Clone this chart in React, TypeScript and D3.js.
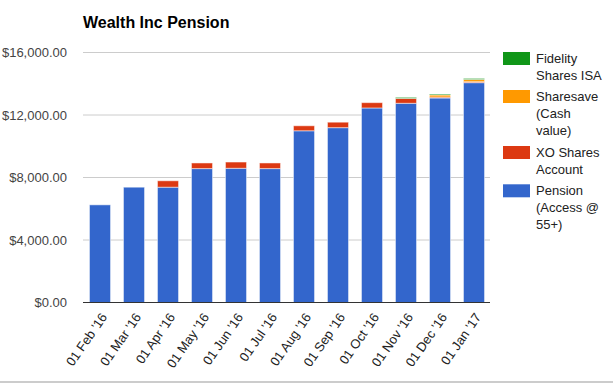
import React from "react";
import * as d3 from "d3";

const categories = ["01 Feb '16", "01 Mar '16", "01 Apr '16", "01 May '16", "01 Jun '16", "01 Jul '16", "01 Aug '16", "01 Sep '16", "01 Oct '16", "01 Nov '16", "01 Dec '16", "01 Jan '17"];
const pension = [6250, 7380, 7380, 8570, 8590, 8570, 10990, 11190, 12450, 12750, 13090, 14070];
const xoShares = [0, 0, 410, 360, 400, 360, 320, 350, 340, 310, 60, 60];
const sharesave = [0, 0, 0, 0, 0, 0, 0, 0, 0, 0, 130, 140];
const fidelity = [0, 0, 0, 0, 0, 0, 0, 0, 0, 70, 60, 70];
const yTicks = [0, 4000, 8000, 12000, 16000];

const seriesNames = ["Pension (Access @ 55+)", "XO Shares Account", "Sharesave (Cash value)", "Fidelity Shares ISA"];
const seriesColors = ["#3366cc", "#dc3912", "#ff9900", "#109618"];
const legendLines = [["Fidelity", "Shares ISA"], ["Sharesave", "(Cash", "value)"], ["XO Shares", "Account"], ["Pension", "(Access @", "55+)"]];
const legendColors = ["#109618", "#ff9900", "#dc3912", "#3366cc"];

export default function App() {
  const W = 613, H = 383;
  const left = 83, right = 491, top = 52.5, bottom = 302.5;
  const x = d3.scaleBand<string>().domain(categories).range([left, right]).paddingInner(0.38).paddingOuter(0.19);
  const y = d3.scaleLinear().domain([0, 16000]).range([bottom, top]);
  const data = categories.map((c, i) => ({ c, s0: pension[i], s1: xoShares[i], s2: sharesave[i], s3: fidelity[i] }));
  const stack = d3.stack<any>().keys(["s0", "s1", "s2", "s3"])(data);
  const fmt = (v: number) => "$" + d3.format(",.2f")(v);
  const font = "Arial, 'Liberation Sans', sans-serif";
  const legendBoxY = [52, 90, 146, 184.3];

  return (
    <svg width={W} height={H} style={{ position: "absolute", left: 0, top: 0, background: "#fff" }} fontFamily={font}>
      <rect x={0} y={0} width={W} height={H} fill="#fff" />
      <text x={83} y={28} fontSize={16} fontWeight="bold" fill="#000">Wealth Inc Pension</text>
      {yTicks.map((t) => (
        <g key={t}>
          {t > 0 && <line x1={left} x2={right - 1} y1={y(t)} y2={y(t)} stroke="#cccccc" strokeWidth={1} />}
          <text x={67} y={y(t)} dy="0.35em" textAnchor="end" fontSize={13} fill="#444">{fmt(t)}</text>
        </g>
      ))}
      {stack.map((layer, si) => (
        <g key={si}>
          {layer.map((d, i) => {
            const h = y(d[0]) - y(d[1]);
            if (h <= 0) return null;
            return (
              <rect key={i} x={x(categories[i])} y={y(d[1])} width={x.bandwidth()} height={h}
                fill={seriesColors[si]} stroke="#ffffff" strokeOpacity={0.5} strokeWidth={1} />
            );
          })}
        </g>
      ))}
      <line x1={left} x2={right - 1} y1={bottom} y2={bottom} stroke="#333" strokeWidth={1} />
      {categories.map((c) => {
        const cx = (x(c) as number) + x.bandwidth() / 2 + 4;
        return (
          <text key={c} transform={`translate(${cx},${bottom + 12}) rotate(-55)`} textAnchor="end" dy="0.35em" fontSize={13} fill="#222">{c}</text>
        );
      })}
      {legendLines.map((lines, li) => (
        <g key={li}>
          <rect x={503} y={legendBoxY[li]} width={27} height={13} fill={legendColors[li]} />
          {lines.map((ln, k) => (
            <text key={k} x={536} y={legendBoxY[li] + 6.5 + k * 17} dy="0.35em" fontSize={13} fill="#222">{ln}</text>
          ))}
        </g>
      ))}
      <line x1={0} x2={W} y1={382} y2={382} stroke="#999" strokeWidth={1} />
    </svg>
  );
}
